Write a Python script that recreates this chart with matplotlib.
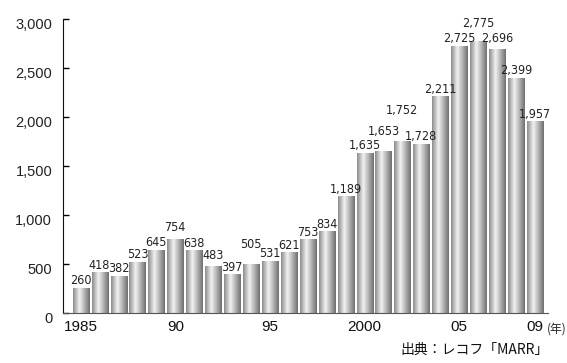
import matplotlib
matplotlib.use('Agg')
import matplotlib.pyplot as plt
import matplotlib.transforms as mtransforms
from matplotlib import font_manager
from matplotlib.colors import LinearSegmentedColormap
import numpy as np

# M&A件数の推移 (1985-2009)
years = list(range(1985, 2010))
counts = [260, 418, 382, 523, 645, 754, 638, 483, 397, 505, 531, 621, 753,
          834, 1189, 1635, 1653, 1752, 1728, 2211, 2725, 2775, 2696, 2399, 1957]
xtick_years = [1985, 1990, 1995, 2000, 2005, 2009]
xtick_labels = ['1985', '90', '95', '2000', '05', '09']
ytick_values = [0, 500, 1000, 1500, 2000, 2500, 3000]

# some value labels sit higher so neighbours don't collide (points)
label_lift = {1990: 3.5, 1992: 2, 1994: 9, 2001: 9, 2002: 17,
              2006: 7.5, 2007: 2.5}

plt.rcParams['font.family'] = ['Liberation Sans', 'DejaVu Sans']


def narrow_font():
    # a condensed sans for the value labels, if one is installed
    for f in font_manager.fontManager.ttflist:
        name = f.name.lower()
        if ('narrow' in name or 'condensed' in name
                or f.stretch in ('condensed', 'semi-condensed')) \
                and 'sans' in name and f.style == 'normal' \
                and f.weight in (400, 'normal', 'regular'):
            return font_manager.FontProperties(fname=f.fname, size=9)
    return font_manager.FontProperties(family='Liberation Sans', size=8)


label_font = narrow_font()

fig = plt.figure(figsize=(5.67, 3.63), dpi=100)
ax = fig.add_axes([0.1116, 0.1377, 0.855, 0.81])

# silver cylinder shading for the bars
silver = LinearSegmentedColormap.from_list(
    'silver', [(0.0, '#8c8c8c'), (0.38, '#f2f2f2'), (1.0, '#707070')])
grad = np.linspace(0, 1, 64).reshape(1, -1)

x = np.arange(len(years))
bars = ax.bar(x, counts, width=0.846, color='none', edgecolor='none')
for rect in bars:
    x0, w, h = rect.get_x(), rect.get_width(), rect.get_height()
    im = ax.imshow(grad, cmap=silver, aspect='auto',
                   extent=(x0, x0 + w, 0, h), zorder=2)
    im.set_clip_path(rect)

for xi, yr, v in zip(x, years, counts):
    ax.annotate(f'{v:,}', (xi, v), xytext=(0, 2.5 + label_lift.get(yr, 0)),
                textcoords='offset points', ha='center', va='baseline',
                fontproperties=label_font, color='#222222',
                annotation_clip=False)

ax.set_xlim(-0.92, 24.7)
ax.set_ylim(0, 3000)

ax.spines['top'].set_visible(False)
ax.spines['right'].set_visible(False)
ax.spines['left'].set_color('#111111')
ax.spines['bottom'].set_color('#555555')

ax.set_yticks(ytick_values)
ax.set_yticklabels([f'{v:,}' for v in ytick_values], fontsize=10.5,
                   color='#222222')
ax.tick_params(axis='y', direction='in', length=4.5, width=1, pad=8)
offset = mtransforms.ScaledTranslation(0, -3.5 / 72, fig.dpi_scale_trans)
for lab in ax.get_yticklabels():
    lab.set_transform(lab.get_transform() + offset)

ax.set_xticks([years.index(y) for y in xtick_years])
ax.set_xticklabels(xtick_labels, fontsize=11, color='#111111')
ax.tick_params(axis='x', length=0, pad=5)

ax.annotate('(年)', xy=(len(years) - 1, 0), xycoords=('data', 'axes fraction'),
            xytext=(9, -11.5), textcoords='offset points',
            ha='left', va='center', fontsize=8.5, color='#222222',
            family=['Noto Sans CJK JP', 'DejaVu Sans'],
            annotation_clip=False)
fig.text(0.967, 0.018, '出典：レコフ「MARR」', ha='right', va='bottom',
         fontsize=10, color='#111111',
         family=['Noto Sans CJK JP', 'DejaVu Sans'])

fig.savefig('out.png', dpi=100)
